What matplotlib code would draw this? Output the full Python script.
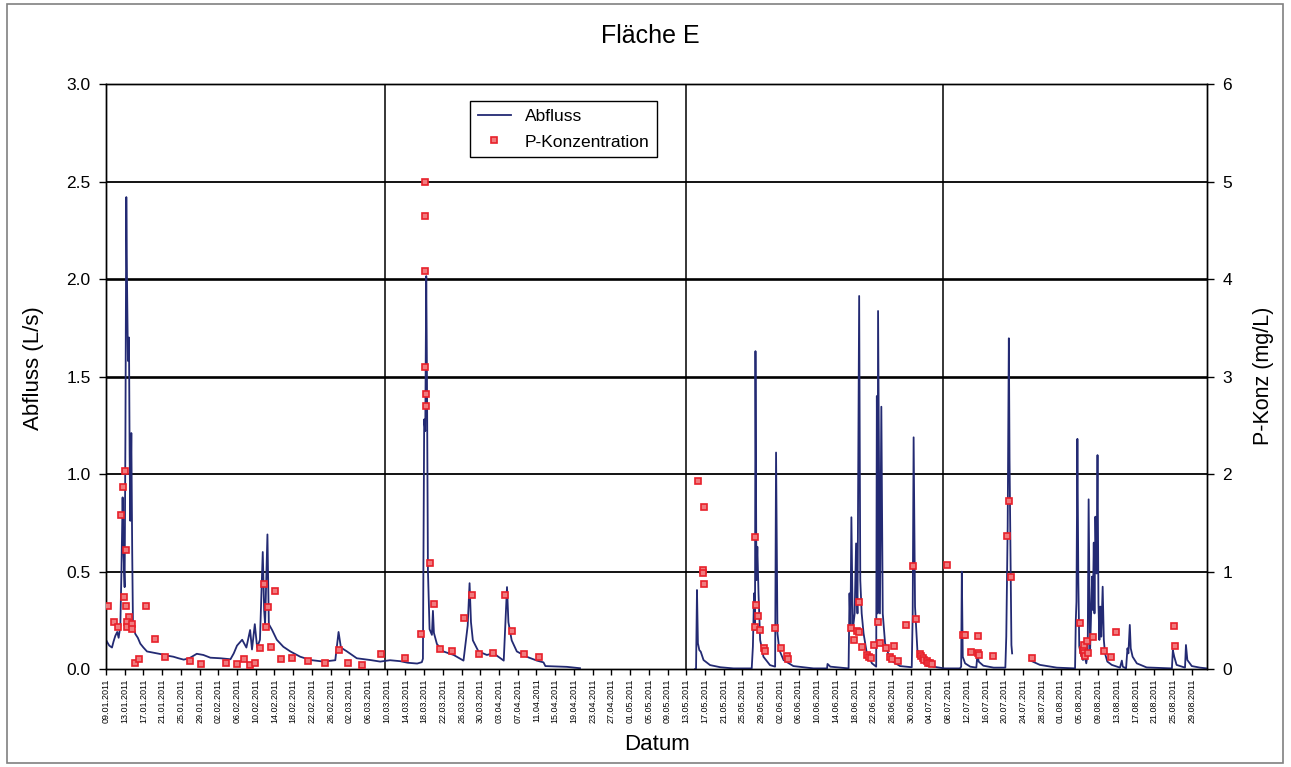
import datetime as dt
import matplotlib
matplotlib.use("Agg")
import matplotlib.pyplot as plt
import matplotlib.dates as mdates
from matplotlib.patches import Rectangle
import numpy as np

plt.rcParams['font.family'] = ['Liberation Sans', 'DejaVu Sans']

# ---------------- data ----------------
start = dt.datetime(2011, 1, 9)

# Abfluss (L/s): time in days since 09.01.2011, NaN marks data gaps
q_day = [0.0, 0.2, 0.7, 1.28, 1.6, 1.99, 2.4, 2.7, 3.06, 3.3, 3.55, 3.75, 3.98, 4.15, 4.34, 4.48,
         4.69, 4.91, 5.05, 5.19, 5.41, 5.6, 5.76, 6.26, 6.8, 7.33, 8.0, 8.76, 9.8, 10.9, 12.0, 13.2,
         14.4, 15.5, 16.6, 17.8, 19.4, 20.8, 22.3, 24.5, 26.6, 27.3, 28.0, 29.1, 30.0, 30.8, 31.2,
         31.8, 32.3, 32.9, 33.5, 33.8, 34.0, 34.5, 34.8, 35.5, 36.5, 37.9, 39.4, 41.5, 43.7, 46.5,
         49.0, 49.7, 50.2, 51.5, 53.6, 56.5, 58.6, 60.7,
         62.9, 64.5, 66.5, 67.5, 67.73, 68.0, 68.23, 68.44, 68.59, 68.8, 69.15, 69.65, 69.87, 70.08,
         70.72, 72.1, 74.3, 76.4, 77.3, 77.7, 78.0, 78.4, 79.6, 81.4, 82.8, 85.0, 85.7, 86.0, 86.7,
         87.8, 90.0, 92.1, 93.5, 93.9, 98.5, 101.3, 110.0,
         125.9, 126.1, 126.3, 126.5, 126.8, 127.1, 127.7, 129.1, 131.3, 134.1, 138.0, 138.25, 138.5,
         138.7, 138.8, 139.0, 139.2, 139.45, 139.8, 140.5, 141.9, 143.0, 143.2, 143.5, 143.9, 144.8,
         146.9, 151.2, 154.1, 154.2, 154.8, 158.7, 158.9, 159.1, 159.3, 159.6, 160.0, 160.3, 160.6,
         160.96, 161.2, 161.5, 161.9, 162.6, 163.7, 164.6, 164.74, 164.9, 165.0, 165.4, 165.7, 166.0,
         166.5, 167.6, 169.7, 172.2, 172.4, 172.6, 172.9, 173.4, 174.7, 176.8, 179.2, 182.5, 182.76,
         182.9, 183.1, 183.6, 184.7, 186.0, 186.25, 186.5, 187.5, 189.7, 192.2, 192.4, 192.7, 192.95,
         193.1, 193.3, 193.5, 193.65, 195.0,
         197.6, 199.6, 203.2, 207.1, 207.26, 207.4, 207.6, 207.8, 208.0, 208.3, 208.8, 209.0, 209.5,
         209.8, 210.0, 210.3, 210.5, 210.75, 210.9, 211.1, 211.25, 211.45, 211.7, 211.9, 212.1, 212.3,
         212.5, 212.7, 213.0, 213.25, 213.5, 214.0, 214.95, 216.7, 217.1, 217.3, 218.0, 218.3, 218.5,
         218.8, 219.0, 219.4, 220.3, 222.4, 227.8, 228.0, 228.3, 228.8, 230.6, 230.8, 231.1, 232.05,
         233.8, 235.3]
q_val = [0.15, 0.14, 0.12, 0.11, 0.14, 0.17, 0.19, 0.16, 0.22, 0.5, 0.88, 0.6, 0.42, 1.2, 2.42, 2.01,
         1.58, 1.70, 1.1, 0.76, 1.21, 0.6, 0.23, 0.18, 0.16, 0.13, 0.11, 0.09, 0.085, 0.08, 0.075, 0.068,
         0.063, 0.055, 0.048, 0.055, 0.078, 0.072, 0.058, 0.055, 0.05, 0.08, 0.12, 0.15, 0.11, 0.2, 0.1,
         0.23, 0.11, 0.15, 0.60, 0.3, 0.23, 0.69, 0.23, 0.2, 0.15, 0.114, 0.09, 0.063, 0.046, 0.038,
         0.045, 0.19, 0.11, 0.09, 0.055, 0.046, 0.038, 0.045,
         0.04, 0.032, 0.028, 0.035, 0.053, 1.28, 1.22, 2.015, 1.52, 0.506, 0.204, 0.175, 0.298, 0.185,
         0.128, 0.09, 0.072, 0.043, 0.223, 0.44, 0.24, 0.147, 0.09, 0.072, 0.081, 0.043, 0.42, 0.24, 0.147,
         0.09, 0.062, 0.043, 0.034, 0.015, 0.011, 0.004, np.nan,
         0.0, 0.003, 0.405, 0.132, 0.097, 0.089, 0.046, 0.02, 0.009, 0.003, 0.003, 0.115, 0.388,
         0.2, 1.63, 0.456, 0.627, 0.388, 0.149, 0.063, 0.02, 0.012, 1.11, 0.183, 0.097, 0.046,
         0.015, 0.003, 0.003, 0.026, 0.012, 0.003, 0.388, 0.2, 0.778, 0.2, 0.285, 0.644, 0.285,
         1.913, 0.456, 0.285, 0.183, 0.08, 0.029, 0.012, 1.40, 0.285, 1.836, 0.285, 1.345, 0.285,
         0.132, 0.046, 0.015, 0.009, 0.285, 1.188, 0.32, 0.097, 0.038, 0.012, 0.003, 0.003, 0.012,
         0.499, 0.063, 0.029, 0.012, 0.007, 0.08, 0.038, 0.017, 0.007, 0.007, 0.166, 0.73, 1.696,
         1.072, 0.593, 0.123, 0.08, np.nan,
         0.043, 0.021, 0.007, 0.003, 0.251, 0.345, 1.18, 0.456, 0.115, 0.08, 0.046, 0.08, 0.029,
         0.08, 0.87, 0.08, 0.251, 0.474, 0.303, 0.648, 0.285, 0.781, 0.49, 1.097, 0.337, 0.149,
         0.32, 0.166, 0.422, 0.149, 0.08, 0.038, 0.021, 0.007, 0.043, 0.012, 0.003, 0.106, 0.08,
         0.226, 0.106, 0.063, 0.029, 0.008, 0.003, 0.097, 0.063, 0.021, 0.007, 0.123, 0.046, 0.015,
         0.007, 0.003]

# P-Konzentration (mg/L): sample times in days since 09.01.2011
p_day = [0.42, 1.63, 2.63, 3.27, 3.56, 4.13, 4.27, 3.91, 4.34, 4.91, 4.48, 4.40, 5.55, 5.62, 8.61,
         6.12, 7.12, 10.5, 12.7, 17.9, 20.2, 25.7, 28.0, 29.5, 30.8, 31.8, 33.0, 33.7, 34.3, 34.7,
         35.3, 36.2, 37.5, 39.8, 43.2, 46.9, 49.9, 51.8, 54.8, 58.8,
         63.8, 67.3, 68.08, 68.1, 68.2, 68.24, 68.3, 68.4, 69.2, 70.0, 71.4, 73.85, 76.6, 78.3, 79.7,
         82.7, 85.3, 86.75, 89.4, 92.6,
         126.6, 127.7, 127.5, 127.6, 127.9, 138.8, 138.9, 139.3, 138.6, 139.8, 140.6, 140.9, 143.0,
         144.3, 145.5, 145.8, 159.2, 159.8, 160.4, 161.0, 160.9, 161.6, 162.6, 163.1, 163.5, 164.2,
         164.9, 165.5, 166.7, 167.6, 168.3, 168.0, 169.2, 170.9, 172.5, 173.1, 173.9, 174.1, 174.5,
         174.9, 175.4, 175.7, 176.2, 176.6, 179.8, 183.1, 183.5, 184.9, 186.3, 186.4, 186.6, 189.5,
         192.6, 192.9, 193.4, 198.0, 208.1, 208.8, 209.0, 209.0, 209.3, 209.7, 209.9, 210.9, 213.2,
         214.7, 215.95, 228.2, 228.5]
p_val = [0.646, 0.485, 0.43, 1.58, 1.87, 2.03, 1.22, 0.735, 0.65, 0.537, 0.485, 0.434, 0.458, 0.41, 0.646,
         0.065, 0.099, 0.31, 0.127, 0.082, 0.051, 0.065, 0.051, 0.099, 0.041, 0.06, 0.215, 0.87, 0.434, 0.64,
         0.229, 0.80, 0.106, 0.11, 0.079, 0.065, 0.195, 0.065, 0.038, 0.15,
         0.117, 0.362, 4.99, 4.65, 4.08, 3.10, 2.82, 2.70, 1.083, 0.668, 0.208, 0.181, 0.528, 0.762, 0.155,
         0.162, 0.762, 0.385, 0.158, 0.128,
         1.93, 1.66, 1.02, 0.98, 0.875, 1.35, 0.66, 0.544, 0.427, 0.403, 0.219, 0.188, 0.417,
         0.212, 0.133, 0.103, 0.42, 0.294, 0.393, 0.38, 0.684, 0.226, 0.14, 0.123, 0.109, 0.243,
         0.485, 0.263, 0.215, 0.126, 0.239, 0.099, 0.085, 0.455, 1.053, 0.513, 0.154, 0.133, 0.116,
         0.089, 0.082, 0.065, 0.058, 0.055, 1.063, 0.349, 0.352, 0.171, 0.342, 0.168, 0.147, 0.133,
         1.36, 1.72, 0.947, 0.109, 0.468, 0.195, 0.243, 0.161, 0.133, 0.287, 0.161, 0.325, 0.181,
         0.123, 0.376, 0.444, 0.239]

# vertical separators (days since 09.01.2011)
sep_day = [59.7, 124, 178.9]

q_ticks = [0.0, 0.5, 1.0, 1.5, 2.0, 2.5, 3.0]
p_ticks = [0, 1, 2, 3, 4, 5, 6]

# ---------------- plot ----------------
def to_dates(days):
    return [start + dt.timedelta(days=float(d)) for d in days]

q_t = to_dates(q_day)
p_t = to_dates(p_day)

fig = plt.figure(figsize=(12.91, 7.67), dpi=100)
ax = fig.add_axes([0.08211, 0.12777, 0.85283, 0.76271])
ax2 = ax.twinx()

xmin = start
xmax = start + dt.timedelta(days=235.3)

# gridlines
for v in q_ticks[1:-1]:
    lw = 1.9 if v in (1.5, 2.0) else 1.3
    ax.axhline(v, color='black', lw=lw, zorder=1)
for d in sep_day:
    ax.axvline(start + dt.timedelta(days=d), color='black', lw=1.1, zorder=1)

line, = ax.plot(q_t, q_val, color='#232A73', lw=1.3, zorder=3, label='Abfluss')
pts, = ax2.plot(p_t, p_val, linestyle='none', marker='s', markersize=5,
                markerfacecolor='#F07B7E', markeredgecolor='#E8202A', markeredgewidth=1.2,
                label='P-Konzentration', zorder=4)

ax.set_xlim(xmin, xmax)
ax.set_ylim(0, 3.0)
ax2.set_ylim(0, 6)
ax.set_yticks(q_ticks)
ax.set_yticklabels([f"{v:.1f}" for v in q_ticks])
ax2.set_yticks(p_ticks)
ax2.set_yticklabels([str(v) for v in p_ticks])

xt = [start + dt.timedelta(days=4 * k) for k in range(59)]
ax.set_xticks(xt)
ax.xaxis.set_major_formatter(mdates.DateFormatter('%d.%m.%Y'))
ax.tick_params(axis='x', labelrotation=90, labelsize=6.5, length=4, width=1, pad=3, direction='out')
ax.tick_params(axis='y', labelsize=12.5, length=5, width=1, pad=6, direction='out')
ax2.tick_params(axis='y', labelsize=12.5, length=5, width=1, pad=6, direction='out')

for a in (ax, ax2):
    for s in a.spines.values():
        s.set_color('black')
        s.set_linewidth(1.0)

fig.text(0.5035, 0.953, 'Fläche E', ha='center', va='center', fontsize=18)
fig.text(33 / 1291, 1 - 368 / 767, 'Abfluss (L/s)', rotation=90, ha='center', va='center', fontsize=16)
fig.text(1263 / 1291, 1 - 376 / 767, 'P-Konz (mg/L)', rotation=90, ha='center', va='center', fontsize=15.5)
fig.text(657 / 1291, 1 - 745 / 767, 'Datum', ha='center', va='center', fontsize=16)

leg = ax2.legend([line, pts], ['Abfluss', 'P-Konzentration'], loc='upper left',
                 bbox_to_anchor=(0.3306, 0.971), borderaxespad=0, fontsize=12.5, frameon=True,
                 fancybox=False, edgecolor='black', framealpha=1, borderpad=0.45, handlelength=1.9,
                 handletextpad=0.8, labelspacing=0.6, markerscale=0.8)
leg.get_frame().set_linewidth(1.0)

fig.add_artist(Rectangle((7 / 1291, 4 / 767), (1283 - 7) / 1291, (763 - 4) / 767,
                         transform=fig.transFigure, fill=False, edgecolor='#808080', lw=1.2))

fig.savefig('out.png', dpi=100)
